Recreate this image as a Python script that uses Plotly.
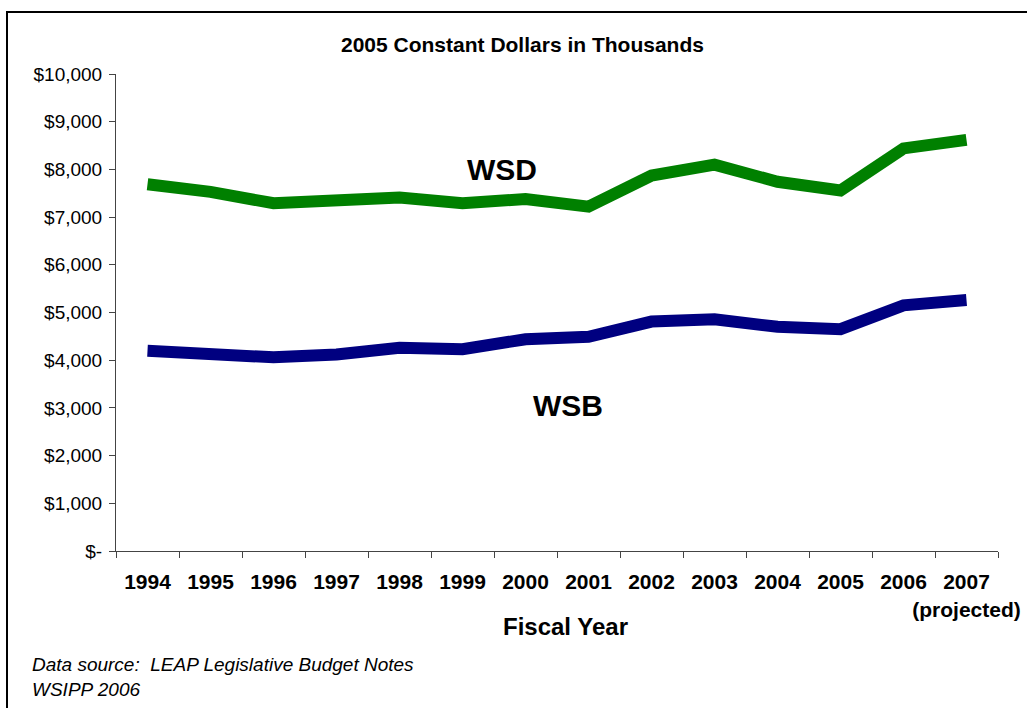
import plotly.graph_objects as go

years = ["1994", "1995", "1996", "1997", "1998", "1999", "2000",
         "2001", "2002", "2003", "2004", "2005", "2006", "2007"]
year_labels = years[:-1] + ["2007<br>(projected)"]
wsd = [7690, 7530, 7290, 7360, 7410, 7290, 7380, 7220, 7870, 8100, 7740, 7560, 8440, 8620]
wsb = [4200, 4120, 4060, 4120, 4260, 4230, 4440, 4490, 4810, 4860, 4700, 4650, 5150, 5260]
y_ticks = [0, 1000, 2000, 3000, 4000, 5000, 6000, 7000, 8000, 9000, 10000]
y_tick_text = ["$-", "$1,000", "$2,000", "$3,000", "$4,000", "$5,000",
               "$6,000", "$7,000", "$8,000", "$9,000", "$10,000"]

FONT = "Liberation Sans, Arial, sans-serif"
W, H = 1027, 708
L, R, T, B = 116, 29, 74, 157
pw, ph = W - L - R, H - T - B


def px(x):
    return (x - L) / pw


def py(y):
    return (H - B - y) / ph


fig = go.Figure()
fig.add_trace(go.Scatter(x=years, y=wsd, mode="lines", name="WSD",
                         line=dict(color="#008000", width=12)))
fig.add_trace(go.Scatter(x=years, y=wsb, mode="lines", name="WSB",
                         line=dict(color="#000080", width=12)))

bold_labels = ["<br>".join("<b>" + part + "</b>" for part in t.split("<br>"))
               for t in year_labels]

fig.update_layout(
    width=W, height=H,
    margin=dict(l=L, r=R, t=T, b=B),
    plot_bgcolor="white", paper_bgcolor="white",
    showlegend=False,
    font=dict(family=FONT, color="black"),
    xaxis=dict(
        type="category", tickmode="array", tickvals=years, ticktext=bold_labels,
        tickson="boundaries", ticks="outside", ticklen=6, tickcolor="#444",
        tickangle=0, automargin=False, ticklabelstandoff=12,
        showline=True, linecolor="#444", linewidth=1, showgrid=False,
        tickfont=dict(size=21, family=FONT),
        range=[-0.5, 13.5], zeroline=False,
    ),
    yaxis=dict(
        range=[0, 10000], tickmode="array", tickvals=y_ticks, ticktext=y_tick_text,
        ticks="outside", ticklen=6, tickcolor="#444", automargin=False,
        showline=True, linecolor="#444", linewidth=1, showgrid=False, zeroline=False,
        tickfont=dict(size=19, family=FONT), ticklabelstandoff=3,
    ),
)

annotations = [
    dict(text="<b>2005 Constant Dollars in Thousands</b>", x=px(522), y=py(45),
         font=dict(size=21)),
    dict(text="<b>Fiscal Year</b>", x=px(565), y=py(626), font=dict(size=24)),
    dict(text="<b>WSD</b>", x=px(502), y=py(170), font=dict(size=30)),
    dict(text="<b>WSB</b>", x=px(568), y=py(405), font=dict(size=30)),
    dict(text="<i>Data source:  LEAP Legislative Budget Notes</i>", x=px(30), y=py(664),
         xanchor="left", font=dict(size=19)),
    dict(text="<i>WSIPP 2006</i>", x=px(30), y=py(689), xanchor="left", font=dict(size=19)),
]
for a in annotations:
    a.setdefault("xanchor", "center")
    a["font"]["family"] = FONT
    fig.add_annotation(xref="paper", yref="paper", showarrow=False, yanchor="middle", **a)

# outer frame
fig.add_shape(type="rect", xref="paper", yref="paper",
              x0=px(7), x1=px(1040), y0=py(720), y1=py(12),
              line=dict(color="black", width=2), layer="below")

fig.write_html("out.html")
